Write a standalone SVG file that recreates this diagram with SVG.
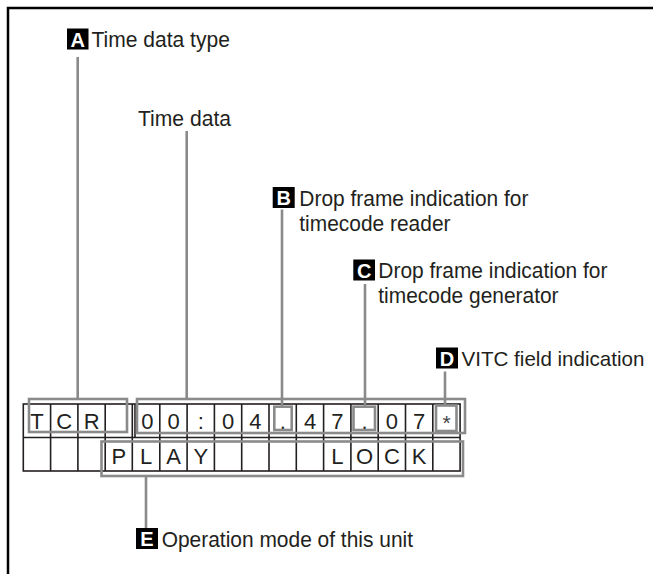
<svg xmlns="http://www.w3.org/2000/svg" width="653" height="574" viewBox="0 0 653 574">
<defs>
<style>
.frame{fill:none;stroke:#000;stroke-width:2.5}
.grid{fill:none;stroke:#231f20;stroke-width:1.6}
.br{fill:none;stroke:#8a8a8a;stroke-width:2.6}
.ld{fill:none;stroke:#8a8a8a;stroke-width:2.6}
.lbl{font-family:"Liberation Sans",Arial,sans-serif;font-size:22.5px;fill:#231f20}
.key{fill:#000}
.keyt{font-family:"Liberation Sans",Arial,sans-serif;font-size:20px;font-weight:bold;fill:#fff;text-anchor:middle}
.cell{font-family:"Liberation Sans",Arial,sans-serif;font-size:22px;fill:#231f20;text-anchor:middle}
</style>
</defs>
<rect width="653" height="574" fill="#fff"/>
<path class="frame" d="M8 574V8H653"/>

<g id="lcd">
<rect class="grid" x="23.3" y="404" width="436.8" height="67"/>
<line class="grid" x1="23.3" y1="437.5" x2="460.1" y2="437.5"/>
<path class="grid" d="M50.6 404V471M77.9 404V471M105.2 404V471M132.3 404V471M135 404V437.5M159.8 404V471M187.1 404V471M214.4 404V471M241.7 404V471M269 404V471M296.3 404V471M323.6 404V471M350.9 404V471M378.2 404V471M405.5 404V471M432.8 404V471"/>
<g class="cell">
<text x="37" y="429">T</text><text x="64.3" y="429">C</text><text x="91.6" y="429">R</text>
<text x="147.4" y="429">0</text><text x="173.5" y="429">0</text><text x="200.8" y="429">:</text><text x="228.1" y="429">0</text><text x="255.4" y="429">4</text><text x="282.7" y="429">.</text><text x="310" y="429">4</text><text x="337.3" y="429">7</text><text x="364.6" y="429">.</text><text x="391.9" y="429">0</text><text x="419.2" y="429">7</text>
<text x="446.5" y="430" style="font-size:21px;fill:#444">*</text>
<text x="118.8" y="463.5">P</text><text x="146.1" y="463.5">L</text><text x="173.5" y="463.5">A</text><text x="200.8" y="463.5">Y</text>
<text x="337.3" y="463.5">L</text><text x="364.6" y="463.5">O</text><text x="391.9" y="463.5">C</text><text x="419.2" y="463.5">K</text>
</g>
</g>

<g id="connectors">
<rect class="br" x="29" y="399" width="98" height="33"/>
<rect class="br" x="137" y="399" width="328" height="34"/>
<rect class="br" x="274.3" y="406.7" width="17.4" height="23.3"/>
<rect class="br" x="353.5" y="406.7" width="21.5" height="23.3"/>
<rect class="br" x="436" y="405.5" width="20.5" height="25.5"/>
<rect class="br" x="101.5" y="441.5" width="361.5" height="34.5"/>
<line class="ld" x1="77.7" y1="57" x2="77.7" y2="399"/>
<line class="ld" x1="186.7" y1="131" x2="186.7" y2="399"/>
<line class="ld" x1="282" y1="209.5" x2="282" y2="406.7"/>
<line class="ld" x1="365" y1="284" x2="365" y2="406.7"/>
<line class="ld" x1="445" y1="371.5" x2="445" y2="405.5"/>
<line class="ld" x1="146" y1="476" x2="146" y2="528"/>
</g>

<g id="A">
<rect class="key" x="67" y="28.5" width="21.5" height="21"/>
<text class="keyt" x="77.7" y="46.5">A</text>
<text class="lbl" x="91.5" y="47" textLength="138.4" lengthAdjust="spacingAndGlyphs">Time data type</text>
</g>
<g id="time-data">
<text class="lbl" x="138" y="125.5" textLength="93" lengthAdjust="spacingAndGlyphs">Time data</text>
</g>
<g id="B">
<rect class="key" x="272.7" y="187" width="22" height="21"/>
<text class="keyt" x="283.7" y="205">B</text>
<text class="lbl" x="299.3" y="205.5" textLength="229.1" lengthAdjust="spacingAndGlyphs">Drop frame indication for</text>
<text class="lbl" x="299.3" y="230.5" textLength="151.2" lengthAdjust="spacingAndGlyphs">timecode reader</text>
</g>
<g id="C">
<rect class="key" x="353.3" y="259.5" width="21.7" height="21"/>
<text class="keyt" x="364.2" y="277.5">C</text>
<text class="lbl" x="378.3" y="278" textLength="229.1" lengthAdjust="spacingAndGlyphs">Drop frame indication for</text>
<text class="lbl" x="378.3" y="303" textLength="180.3" lengthAdjust="spacingAndGlyphs">timecode generator</text>
</g>
<g id="D">
<rect class="key" x="436" y="347.5" width="22" height="21"/>
<text class="keyt" x="447" y="365.5">D</text>
<text class="lbl" x="461.5" y="366" style="font-size:21px" textLength="183" lengthAdjust="spacingAndGlyphs">VITC field indication</text>
</g>
<g id="E">
<rect class="key" x="136" y="528" width="22" height="21"/>
<text class="keyt" x="147" y="546">E</text>
<text class="lbl" x="161.7" y="546.5" textLength="251.3" lengthAdjust="spacingAndGlyphs">Operation mode of this unit</text>
</g>
</svg>
